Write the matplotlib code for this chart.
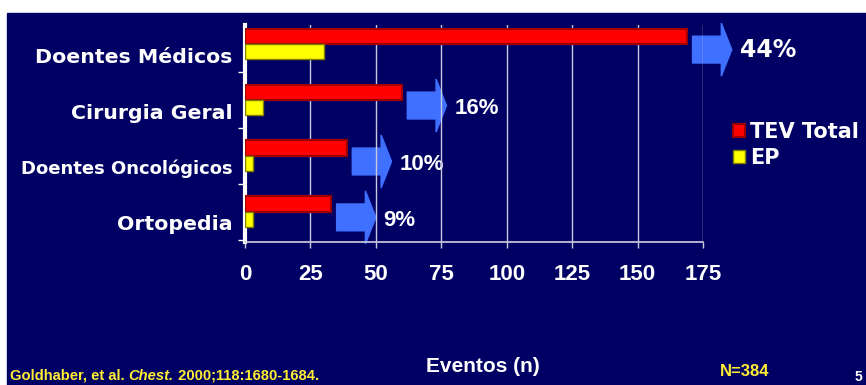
import numpy as np
import matplotlib.pyplot as plt
from matplotlib.patches import Rectangle, FancyArrow

# Data
categories = ['Doentes Médicos', 'Cirurgia Geral', 'Doentes Oncológicos', 'Ortopedia']
tev_total = [169, 60, 39, 33]
ep = [30, 7, 3, 3]
percent_labels = ['44%', '16%', '10%', '9%']
x_ticks = [0, 25, 50, 75, 100, 125, 150, 175]

NAVY = '#000064'
BLUE = '#4070ff'
ARIAL = 'Liberation Sans'

fig = plt.figure(figsize=(8.66, 3.85), dpi=100)
fig.patch.set_facecolor('white')
fig.add_artist(Rectangle((7/866, 0), 1, 1 - 13/385, transform=fig.transFigure,
                         color=NAVY, zorder=-10))

ax = fig.add_axes([245/866, 1 - 242/385, 458/866, 217/385])
ax.set_facecolor(NAVY)

y = np.arange(len(categories))
bars_tev = ax.barh(y - 0.14, tev_total, height=0.27, color='#ff0000',
                   edgecolor='#a00000', linewidth=1.5, zorder=3, label='TEV Total')
bars_ep = ax.barh(y + 0.14, ep, height=0.27, color='#ffff00',
                  edgecolor='#808000', linewidth=1, zorder=3, label='EP')

# blue arrows + percentages
for i, (v, p) in enumerate(zip(tev_total, percent_labels)):
    ax.add_patch(FancyArrow(v + 2, i + 0.1, 15, 0, width=0.48, head_width=0.95,
                            head_length=4, length_includes_head=True,
                            color=BLUE, clip_on=False, zorder=0.3))
    if i == 0:
        ax.text(v + 20, i + 0.1, p, color='white', fontsize=17, fontweight='bold',
                va='center', ha='left', zorder=0.4)
    else:
        ax.text(v + 20, i + 0.15, p, color='white', fontsize=16, fontweight='bold',
                family=ARIAL, va='center', ha='left', zorder=0.4)

ax.set_xlim(0, 175)
ax.set_ylim(3.54, -0.34)

ax.set_axisbelow(True)
ax.xaxis.grid(True, color='#c8c8e0', linewidth=1)

for s in ['top', 'right']:
    ax.spines[s].set_visible(False)
ax.spines['left'].set_color('white')
ax.spines['left'].set_linewidth(3)
ax.spines['bottom'].set_color('#d0d0e0')
ax.spines['bottom'].set_linewidth(1.2)

ax.set_xticks(x_ticks)
ax.tick_params(axis='x', colors='#c8c8e0', length=4, width=1, labelcolor='white',
               labelsize=16, pad=12)
for lbl in ax.get_xticklabels():
    lbl.set_fontfamily(ARIAL)
    lbl.set_fontweight('bold')

ax.set_yticks(y + 0.2, labels=categories)
ax.set_yticks([0.5, 1.5, 2.5, 3.5], minor=True)
ax.tick_params(axis='y', which='major', length=0, pad=9, labelcolor='white')
ax.tick_params(axis='y', which='minor', length=5, width=1, color='white')
for i, lbl in enumerate(ax.get_yticklabels()):
    lbl.set_fontweight('bold')
    lbl.set_fontsize(13 if i == 2 else 14.75)

ax.set_xlabel('Eventos (n)', color='white', fontsize=15, fontweight='bold',
              family=ARIAL, va='center')
ax.xaxis.set_label_coords((483 - 245) / 458, (242 - 366) / 217)

leg = ax.legend(handles=[bars_tev, bars_ep], loc='upper left',
                bbox_to_anchor=(733/866, 1 - 122/385), bbox_transform=fig.transFigure,
                frameon=False, borderpad=0, borderaxespad=0, handlelength=0.58,
                handleheight=0.58, handletextpad=0.25, labelspacing=0.3,
                prop={'size': 15, 'weight': 'bold'})
for t in leg.get_texts():
    t.set_color('white')

# footer
foot = dict(color='#ffee33', fontsize=10.6, fontweight='bold', family=ARIAL)
t1 = fig.text(10/866, 1 - 383/385, 'Goldhaber, et al. ', va='bottom', ha='left', **foot)
t2 = ax.annotate('Chest.', xy=(1, 0), xycoords=t1, va='bottom', ha='left',
                 style='italic', annotation_clip=False, **foot)
ax.annotate(' 2000;118:1680-1684.', xy=(1, 0), xycoords=t2, va='bottom', ha='left',
            annotation_clip=False, **foot)
fig.text(745/866, 1 - 371/385, 'N=384', va='center', ha='center',
         **dict(foot, fontsize=12))
fig.text(858/866, 1 - 377/385, '5', va='center', ha='center', color='white',
         fontsize=10, fontweight='bold', family=ARIAL)

fig.savefig('out.png', dpi=100, facecolor=fig.get_facecolor())
